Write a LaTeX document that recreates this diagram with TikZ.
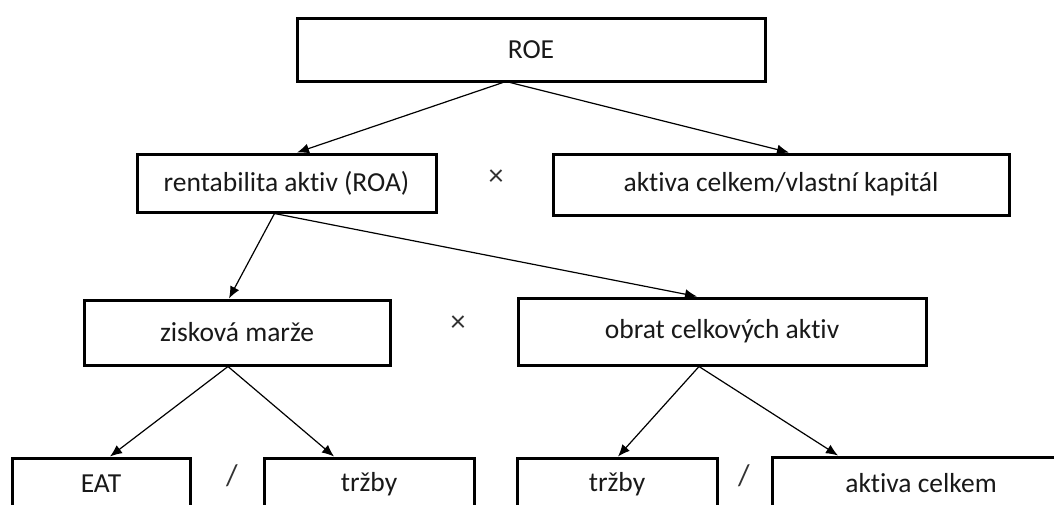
\documentclass[tikz,border=0pt]{standalone}
\usepackage{fontspec}
\setmainfont[Ligatures=NoCommon]{Carlito}
\usetikzlibrary{arrows.meta}
\begin{document}
\begin{tikzpicture}[x=1pt,y=-1pt,
  box/.style={draw, line width=3pt, rectangle, inner sep=0pt,
    font=\fontsize{27.5}{32}\selectfont, text=black!90},
  sym/.style={font=\fontsize{30}{34}\selectfont, text=black!80, inner sep=0pt},
  arr/.style={line width=1.2pt, -{Latex[length=12pt,width=10pt]}}]
\useasboundingbox (0,0) rectangle (1054,504);
\fill[white] (0,0) rectangle (1054,504);
\clip (0,0) rectangle (1054,504);
% boxes
\node[box, minimum width=468pt, minimum height=63pt] (roe) at (531,49.5) {ROE};
\node[box, minimum width=299pt, minimum height=58pt] (roa) at (286.5,183) {rentabilita aktiv (ROA)};
\node[box, minimum width=456pt, minimum height=61pt] (kap) at (781,184.5) {aktiva celkem/vlastní kapitál};
\node[box, minimum width=306pt, minimum height=65pt] (zisk) at (237,332.5) {zisková marže};
\node[box, minimum width=408pt, minimum height=67pt] (obrat) at (722,331.5) {obrat celkových aktiv};
\node[box, minimum width=178pt, minimum height=52pt] (eat) at (101,484) {EAT};
\node[box, minimum width=210pt, minimum height=52pt] (trzA) at (369,484) {tržby};
\node[box, minimum width=200pt, minimum height=52pt] (trzB) at (617,484) {tržby};
\node[box, minimum width=298pt, minimum height=52pt] (akt) at (921,483) {aktiva celkem};
% operators
\node[sym] (x1) at (496,178) {×};
\node[sym] (x2) at (458,324) {×};
\node[sym] (s1) at (232,476) {/};
\node[sym] (s2) at (744,476) {/};
% connectors
\draw[arr] ([xshift=-28pt]roe.south) -- ([xshift=10.5pt]roa.north);
\draw[arr] ([xshift=-21pt]roe.south) -- ([xshift=8pt]kap.north);
\draw[arr] ([xshift=-12pt]roa.south) -- ([xshift=-8pt]zisk.north);
\draw[arr] ([xshift=-12pt]roa.south) -- ([xshift=-25pt]obrat.north);
\draw[arr] ([xshift=-9pt]zisk.south) -- ([xshift=9pt]eat.north);
\draw[arr] ([xshift=-9pt]zisk.south) -- ([xshift=-35pt]trzA.north);
\draw[arr] ([xshift=-23pt]obrat.south) -- ([xshift=1pt]trzB.north);
\draw[arr] ([xshift=-23pt]obrat.south) -- ([xshift=-83pt]akt.north);
\end{tikzpicture}
\end{document}
